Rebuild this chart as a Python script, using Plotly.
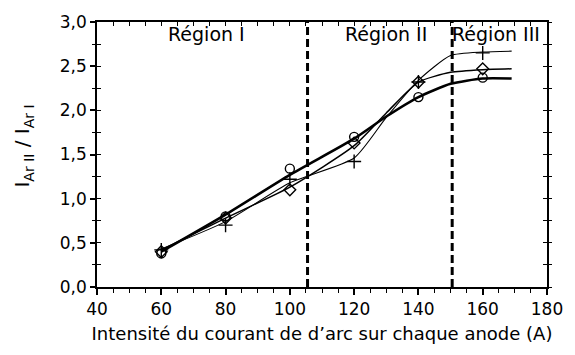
import plotly.graph_objects as go

# Arc current per anode (A) and measured Ar II / Ar I intensity ratios
current = [60, 80, 100, 120, 140, 160]
ratio_circle = [0.38, 0.80, 1.34, 1.70, 2.15, 2.37]
ratio_diamond = [0.40, 0.78, 1.10, 1.63, 2.32, 2.47]
ratio_plus = [0.42, 0.70, 1.22, 1.42, 2.32, 2.65]

# Smoothed trend curves for each measurement set
fit_x = [60, 80, 100, 120, 130, 140, 150, 160, 169]
fit_circle = [0.40, 0.82, 1.27, 1.68, 1.93, 2.15, 2.30, 2.36, 2.36]
fit_diamond = [0.42, 0.78, 1.13, 1.60, 1.97, 2.32, 2.43, 2.46, 2.47]
fit_plus = [0.43, 0.74, 1.18, 1.46, 1.92, 2.34, 2.62, 2.66, 2.67]

# Region boundaries and labels
boundaries = [105.5, 150.5]
region_labels = ["Région I", "Région II", "Région III"]
region_x = [74, 130, 164]
region_y = 2.86

FONT = "DejaVu Sans"

fig = go.Figure()

series = [
    (ratio_circle, fit_circle, "circle-open", 2.6, 9),
    (ratio_diamond, fit_diamond, "diamond-open", 1.5, 9),
    (ratio_plus, fit_plus, "cross-thin-open", 1.1, 10),
]
for ys, fy, sym, lw, ms in series:
    fig.add_trace(go.Scatter(
        x=fit_x, y=fy, mode="lines",
        line=dict(color="black", width=lw, shape="spline", smoothing=0.6),
        showlegend=False, hoverinfo="skip"))
    fig.add_trace(go.Scatter(
        x=current, y=ys, mode="markers",
        marker=dict(symbol=sym, size=ms, color="black", line=dict(width=1.4, color="black")),
        showlegend=False))

# Invisible traces that anchor the extra tick-only axes
for xa, ya in [("x2", "y"), ("x", "y2"), ("x", "y3"), ("x", "y4")]:
    fig.add_trace(go.Scatter(x=[None], y=[None], xaxis=xa, yaxis=ya,
                             showlegend=False, hoverinfo="skip"))

for bx in boundaries:
    fig.add_shape(type="line", x0=bx, x1=bx, y0=0, y1=3, xref="x", yref="y",
                  line=dict(color="black", width=3, dash="8px,4px"))

for txt, rx in zip(region_labels, region_x):
    fig.add_annotation(x=rx, y=region_y, text=txt, showarrow=False,
                       font=dict(family=FONT, size=19, color="black"),
                       xanchor="center", yanchor="middle")

# Vertical axis title, placed by hand left of the tick labels
fig.add_annotation(x=0, y=0.53, xref="paper", yref="paper", xanchor="center",
                   yanchor="middle", xshift=-74, textangle=-90, showarrow=False,
                   text="I<sub>Ar II</sub> / I<sub>Ar I</sub>",
                   font=dict(family=FONT, size=20, color="black"))

tickfont = dict(family=FONT, size=17, color="black")
xr = [40, 180]
yr = [0, 3]

fig.update_layout(
    width=575, height=355,
    margin=dict(l=97, r=27, t=15, b=68),
    paper_bgcolor="white", plot_bgcolor="white",
    separators=", ",
    xaxis=dict(range=xr, tick0=40, dtick=20, ticks="outside", ticklen=6, tickwidth=1.5,
               tickcolor="black", minor=dict(dtick=5, ticks="outside", ticklen=4,
                                             tickwidth=1.2, tickcolor="black"),
               showline=True, linecolor="black", linewidth=1.5, mirror=True,
               showgrid=False, zeroline=False, tickfont=tickfont,
               title=dict(text="Intensité du courant de d’arc sur chaque anode (A)",
                          font=dict(family=FONT, size=18, color="black"), standoff=9)),
    xaxis2=dict(range=xr, overlaying="x", side="top", tick0=40, dtick=5, ticks="inside",
                ticklen=4, tickwidth=1.2, tickcolor="black", showticklabels=False,
                showgrid=False, zeroline=False, showline=False),
    yaxis=dict(range=yr, tick0=0, dtick=0.5, ticks="outside", ticklen=5, tickwidth=1.5,
               tickcolor="black", tickformat=".1f",
               minor=dict(dtick=0.25, ticks="outside", ticklen=3, tickwidth=1.2,
                          tickcolor="black"),
               showline=True, linecolor="black", linewidth=1.5, mirror=True,
               showgrid=False, zeroline=False, tickfont=tickfont),
    yaxis2=dict(range=yr, overlaying="y", side="left", tick0=0, dtick=0.25, ticks="inside",
                ticklen=4, tickwidth=1.2, tickcolor="black", showticklabels=False,
                showgrid=False, zeroline=False, showline=False),
    yaxis3=dict(range=yr, overlaying="y", side="right", tick0=0, dtick=0.25, ticks="outside",
                ticklen=4, tickwidth=1.2, tickcolor="black", showticklabels=False,
                showgrid=False, zeroline=False, showline=False),
    yaxis4=dict(range=yr, overlaying="y", side="right", tick0=0, dtick=0.25, ticks="inside",
                ticklen=4, tickwidth=1.2, tickcolor="black", showticklabels=False,
                showgrid=False, zeroline=False, showline=False),
)

fig.write_html("out.html")
